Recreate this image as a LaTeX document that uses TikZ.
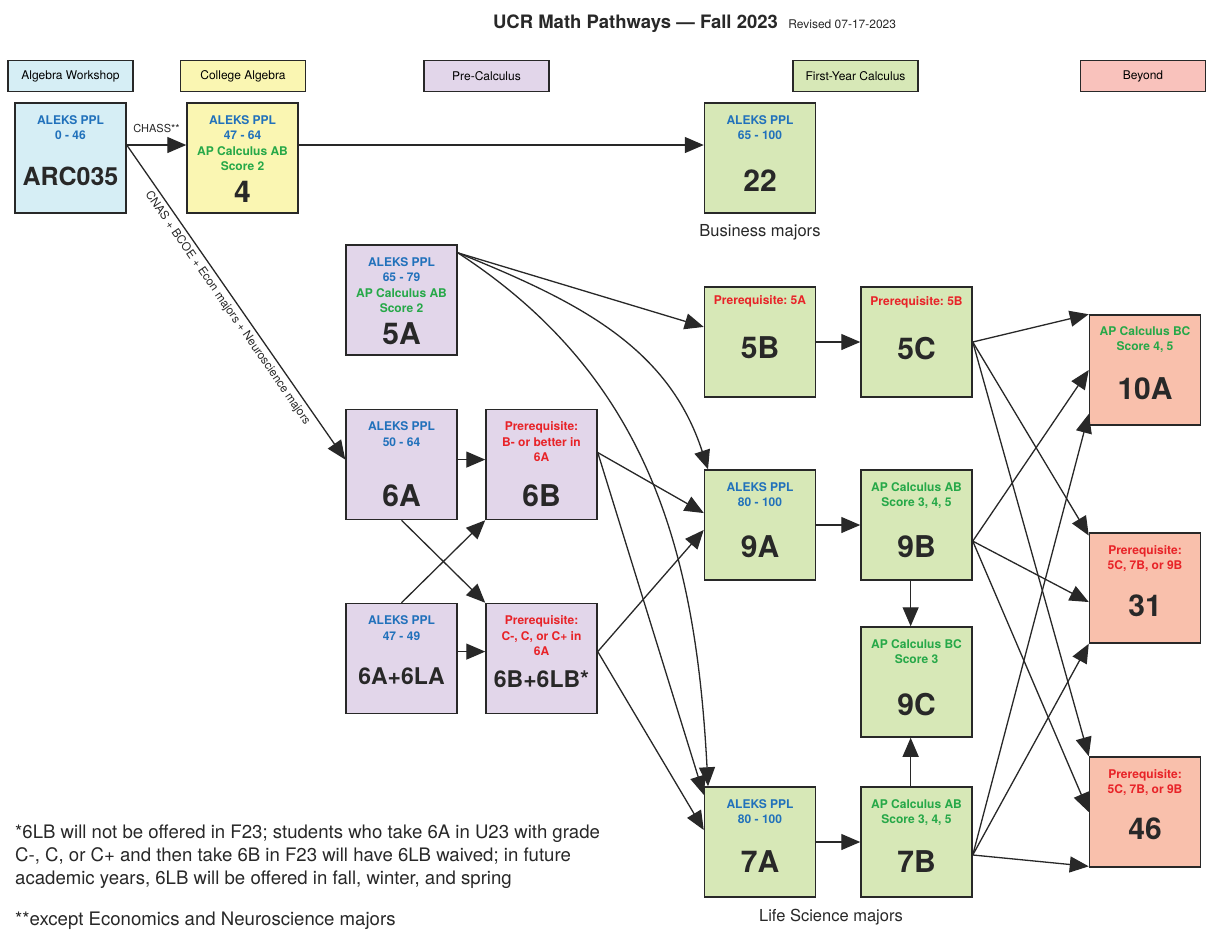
\documentclass[tikz,border=0pt]{standalone}
\usepackage{fontspec}
\setmainfont{TeX Gyre Heros}
\usepackage{tikz}
\usetikzlibrary{arrows.meta,positioning,calc}

\definecolor{ink}{RGB}{40,40,40}
\definecolor{wsblue}{RGB}{214,238,245}
\definecolor{algyel}{RGB}{250,246,178}
\definecolor{prepur}{RGB}{226,214,234}
\definecolor{calgrn}{RGB}{215,232,183}
\definecolor{beysal}{RGB}{249,192,172}
\definecolor{beyhdr}{RGB}{249,194,188}
\definecolor{aleks}{RGB}{33,113,187}
\definecolor{apcalc}{RGB}{38,168,72}
\definecolor{prereq}{RGB}{232,35,40}

\begin{document}
\frenchspacing
\begin{tikzpicture}[
    x=1pt, y=-1pt,
    hdr/.style={draw=ink, line width=1.4pt, minimum width=125pt, minimum height=31pt,
        inner sep=0pt, font=\fontsize{12}{14}\selectfont},
    box/.style={draw=ink, line width=1.5pt, minimum width=111pt, minimum height=110pt,
        inner sep=0pt},
    info/.style={anchor=north, align=center, inner sep=0pt,
        font=\bfseries\fontsize{12}{15.5}\selectfont},
    big/.style={inner sep=0pt, font=\bfseries\fontsize{30}{30}\selectfont, text=ink},
    note/.style={inner sep=0pt, font=\fontsize{16.5}{22.5}\selectfont, text=ink},
    foot/.style={inner sep=0pt, font=\fontsize{18.6}{22.6}\selectfont, text=ink},
    arrow/.style={-{Triangle[length=19pt,width=16pt]}, line width=1.3pt, draw=ink},
]
\fill[white] (0,0) rectangle (1220,945);
\useasboundingbox (0,0) rectangle (1220,945);

% title
\node[inner sep=0pt, font=\bfseries\fontsize{18.5}{20}\selectfont, text=ink] (title) at (635.5,24) {UCR Math Pathways --- Fall 2023};
\node[inner sep=0pt, anchor=base west, font=\fontsize{12}{13}\selectfont, text=ink] (rev) at ([xshift=10pt]title.base east) {Revised 07-17-2023};

% column headers
\node[hdr, fill=wsblue] (hWS) at (70.5,76) {Algebra Workshop};
\node[hdr, fill=algyel] (hCA) at (243,76) {College Algebra};
\node[hdr, fill=prepur] (hPC) at (486.5,76) {Pre-Calculus};
\node[hdr, fill=calgrn] (hFY) at (855.5,76) {First-Year Calculus};
\node[hdr, fill=beyhdr] (hBY) at (1143,76) {Beyond};

% course boxes
\node[box, fill=wsblue] (bARC) at (70.5,158) {};
\node[box, fill=algyel] (b4) at (242.5,158) {};
\node[box, fill=calgrn] (b22) at (760,158) {};
\node[box, fill=prepur] (b5A) at (401.5,300) {};
\node[box, fill=calgrn] (b5B) at (760,342) {};
\node[box, fill=calgrn] (b5C) at (916.5,342) {};
\node[box, fill=beysal] (b10A) at (1145,370) {};
\node[box, fill=prepur] (b6A) at (401.5,464.5) {};
\node[box, fill=prepur] (b6B) at (541.5,464.5) {};
\node[box, fill=calgrn] (b9A) at (760,525) {};
\node[box, fill=calgrn] (b9B) at (916.5,525) {};
\node[box, fill=beysal] (b31) at (1145,588) {};
\node[box, fill=prepur] (b6AL) at (401.5,658.5) {};
\node[box, fill=prepur] (b6BL) at (541.5,658.5) {};
\node[box, fill=calgrn] (b9C) at (916.5,682) {};
\node[box, fill=beysal] (b46) at (1145,812) {};
\node[box, fill=calgrn] (b7A) at (760,842) {};
\node[box, fill=calgrn] (b7B) at (916.5,842) {};

% requirements
\node[info, text=aleks] (tARC) at ([yshift=-13pt]bARC.north) {ALEKS PPL\\0 - 46};
\node[info, text=aleks] (t4) at ([yshift=-13pt]b4.north) {ALEKS PPL\\47 - 64\\\textcolor{apcalc}{AP Calculus AB}\\\textcolor{apcalc}{Score 2}};
\node[info, text=aleks] (t22) at ([yshift=-13pt]b22.north) {ALEKS PPL\\65 - 100};
\node[info, text=aleks] (t5A) at ([yshift=-13pt]b5A.north) {ALEKS PPL\\65 - 79\\\textcolor{apcalc}{AP Calculus AB}\\\textcolor{apcalc}{Score 2}};
\node[info, text=prereq] (t5B) at ([yshift=-9pt]b5B.north) {Prerequisite: 5A};
\node[info, text=prereq] (t5C) at ([yshift=-10pt]b5C.north) {Prerequisite: 5B};
\node[info, text=apcalc] (t10A) at ([yshift=-12pt]b10A.north) {AP Calculus BC\\Score 4, 5};
\node[info, text=aleks] (t6A) at ([yshift=-13pt]b6A.north) {ALEKS PPL\\50 - 64};
\node[info, text=prereq] (t6B) at ([yshift=-13pt]b6B.north) {Prerequisite:\\B- or better in\\6A};
\node[info, text=aleks] (t9A) at ([yshift=-13pt]b9A.north) {ALEKS PPL\\80 - 100};
\node[info, text=apcalc] (t9B) at ([yshift=-13pt]b9B.north) {AP Calculus AB\\Score 3, 4, 5};
\node[info, text=prereq] (t31) at ([yshift=-13pt]b31.north) {Prerequisite:\\5C, 7B, or 9B};
\node[info, text=aleks] (t6AL) at ([yshift=-13pt]b6AL.north) {ALEKS PPL\\47 - 49};
\node[info, text=prereq] (t6BL) at ([yshift=-13pt]b6BL.north) {Prerequisite:\\C-, C, or C+ in\\6A};
\node[info, text=apcalc] (t9C) at ([yshift=-13pt]b9C.north) {AP Calculus BC\\Score 3};
\node[info, text=prereq] (t46) at ([yshift=-13pt]b46.north) {Prerequisite:\\5C, 7B, or 9B};
\node[info, text=aleks] (t7A) at ([yshift=-13pt]b7A.north) {ALEKS PPL\\80 - 100};
\node[info, text=apcalc] (t7B) at ([yshift=-13pt]b7B.north) {AP Calculus AB\\Score 3, 4, 5};

% course numbers
\node[big, font=\bfseries\fontsize{25}{25}\selectfont] (nARC) at ([yshift=-74pt]bARC.north) {ARC035};
\node[big] (n4) at ([yshift=-90pt]b4.north) {4};
\node[big] (n22) at ([yshift=-78pt]b22.north) {22};
\node[big] (n5A) at ([yshift=-89pt]b5A.north) {5A};
\node[big] (n5B) at ([yshift=-61pt]b5B.north) {5B};
\node[big] (n5C) at ([yshift=-62pt]b5C.north) {5C};
\node[big] (n10A) at ([yshift=-74pt]b10A.north) {10A};
\node[big] (n6A) at ([yshift=-87pt]b6A.north) {6A};
\node[big] (n6B) at ([yshift=-87pt]b6B.north) {6B};
\node[big] (n9A) at ([yshift=-77pt]b9A.north) {9A};
\node[big] (n9B) at ([yshift=-77pt]b9B.north) {9B};
\node[big] (n31) at ([yshift=-74pt]b31.north) {31};
\node[big, font=\bfseries\fontsize{23}{23}\selectfont] (n6AL) at ([yshift=-73pt]b6AL.north) {6A+6LA};
\node[big, font=\bfseries\fontsize{23}{23}\selectfont] (n6BL) at ([yshift=-76pt]b6BL.north) {6B+6LB*};
\node[big] (n9C) at ([yshift=-78pt]b9C.north) {9C};
\node[big] (n46) at ([yshift=-73pt]b46.north) {46};
\node[big] (n7A) at ([yshift=-75pt]b7A.north) {7A};
\node[big] (n7B) at ([yshift=-75pt]b7B.north) {7B};

% majors
\node[note] (lbus) at (760,232) {Business majors};
\node[note] (llife) at (831,917) {Life Science majors};

% footnotes
\node[foot, anchor=north west, align=left] (fn1) at (15,825) {*6LB will not be offered in F23; students who take 6A in U23 with grade\\C-, C, or C+ and then take 6B in F23 will have 6LB waived; in future\\academic years, 6LB will be offered in fall, winter, and spring};
\node[foot, anchor=north west] (fn2) at (15,912) {**except Economics and Neuroscience majors};

% pathways
\draw[arrow] (bARC.13) -- node[above=12pt, inner sep=0pt, font=\fontsize{11}{12}\selectfont, text=ink] (lchass) {CHASS**} (b4.167);
\draw[arrow] (bARC.13) -- node[midway, sloped, below=4pt, inner sep=0pt, font=\fontsize{11.7}{12}\selectfont, text=ink] (lcnas) {CNAS + BCOE + Econ majors + Neuroscience majors} (b6A.175);
\draw[arrow] (b4.13) -- (b22.167);
\draw[arrow] (b5A.40) -- (b5B.165);
\draw[arrow] (b5A.40) to[out=-22, in=108] (b9A.133);
\draw[arrow] (b5A.40) to[out=-33, in=93] (b7A.133);
\draw[arrow] (b6A.5) -- (b6B.175);
\draw[arrow] (b6A.south) -- (b6BL.north west);
\draw[arrow] (b6AL.north) -- (b6B.south west);
\draw[arrow] (b6AL.7) -- (b6BL.173);
\draw[arrow] (b6B.12) -- (b9A.168);
\draw[arrow] (b6B.12) -- (b7A.140);
\draw[arrow] (b6BL.7) -- (b9A.185);
\draw[arrow] (b6BL.7) -- (b7A.168);
\draw[arrow] (b5B) -- (b5C);
\draw[arrow] (b9A) -- (b9B);
\draw[arrow] (b7A) -- (b7B);
\draw[arrow] (b9B.-96) -- (b9C.96);
\draw[arrow] (b7B.96) -- (b9C.-96);
\draw[arrow] (b5C.east) -- (b10A.north west);
\draw[arrow] (b5C.east) -- (b31.137);
\draw[arrow] (b5C.east) -- (b46.north west);
\draw[arrow] (b9B.-16) -- (b10A.west);
\draw[arrow] (b9B.-16) -- (b31.194);
\draw[arrow] (b9B.-16) -- (b46.west);
\draw[arrow] (b7B.-13) -- (b10A.218);
\draw[arrow] (b7B.-13) -- (b31.south west);
\draw[arrow] (b7B.-13) -- (b46.224);

\end{tikzpicture}
\end{document}
